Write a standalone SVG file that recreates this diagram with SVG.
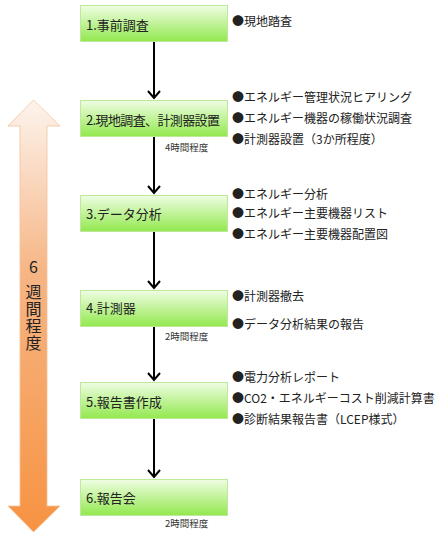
<svg xmlns="http://www.w3.org/2000/svg" width="444" height="537" viewBox="0 0 444 537">
<defs>
<linearGradient id="gBox" x1="0" y1="0" x2="0" y2="1">
<stop offset="0" stop-color="#effde3"/>
<stop offset="1" stop-color="#92e84e"/>
</linearGradient>
<linearGradient id="gArrow" x1="0" y1="100" x2="0" y2="532" gradientUnits="userSpaceOnUse">
<stop offset="0" stop-color="#fdf4ee"/>
<stop offset="0.4" stop-color="#f6b584"/>
<stop offset="1" stop-color="#f79342"/>
</linearGradient>
<style>
.box{fill:url(#gBox);stroke:#bfe89a;stroke-width:1}
.lbl{font-family:"Noto Sans CJK JP","Noto Sans",sans-serif;font-size:13px;fill:#222}
.note{font-family:"Noto Sans CJK JP","Noto Sans",sans-serif;font-size:12px;fill:#222}
.small{font-family:"Noto Sans CJK JP","Noto Sans",sans-serif;font-size:9.5px;fill:#333}
.vt{font-family:"Noto Sans CJK JP","Noto Sans",sans-serif;font-size:16px;fill:#222;text-anchor:middle}
.vv{font-family:"Noto Sans CJK JP","Noto Sans",sans-serif;font-size:16px;fill:#222;writing-mode:vertical-rl;letter-spacing:1px}
.ln{stroke:#000;stroke-width:2;fill:none}
.hd{stroke:#000;stroke-width:2;fill:none;stroke-linejoin:miter}
</style>
</defs>
<rect width="444" height="537" fill="#fff"/>

<g id="period">
<polygon points="33.5,100 60,126 47,126 47,506 60,506 33.5,532 8,506 20,506 20,126 8,126" fill="url(#gArrow)" stroke="#f2c39c" stroke-width="0.8"/>
<text class="vt" x="33.5" y="273">6</text>
<text class="vv" x="33.5" y="284">週間程度</text>
</g>

<g id="connectors">
<path class="ln" d="M154,42 V97"/>
<path class="hd" d="M148,91 L154,98 L160,91"/>
<path class="ln" d="M154,137 V192"/>
<path class="hd" d="M148,186 L154,193 L160,186"/>
<path class="ln" d="M154,231 V287"/>
<path class="hd" d="M148,281 L154,288 L160,281"/>
<path class="ln" d="M154,326 V379"/>
<path class="hd" d="M148,373 L154,380 L160,373"/>
<path class="ln" d="M154,418 V476"/>
<path class="hd" d="M148,470 L154,477 L160,470"/>
</g>

<g id="step1">
<rect class="box" x="80.5" y="5.5" width="147" height="36"/>
<text class="lbl" x="86" y="30">1.事前調査</text>
<text class="note" x="232" y="26">●現地踏査</text>
</g>

<g id="step2">
<rect class="box" x="80.5" y="100.5" width="147" height="36"/>
<text class="lbl" x="86" y="124.5" textLength="134">2.現地調査、計測器設置</text>
<text class="note" x="232" y="102">●エネルギー管理状況ヒアリング</text>
<text class="note" x="232" y="123">●エネルギー機器の稼働状況調査</text>
<text class="note" x="232" y="144">●計測器設置（3か所程度）</text>
<text class="small" x="165" y="150.5">4時間程度</text>
</g>

<g id="step3">
<rect class="box" x="80.5" y="195.5" width="147" height="36"/>
<text class="lbl" x="86" y="218.5">3.データ分析</text>
<text class="note" x="232" y="199">●エネルギー分析</text>
<text class="note" x="232" y="218">●エネルギー主要機器リスト</text>
<text class="note" x="232" y="238.5">●エネルギー主要機器配置図</text>
</g>

<g id="step4">
<rect class="box" x="80.5" y="290.5" width="147" height="36"/>
<text class="lbl" x="86" y="312.5">4.計測器</text>
<text class="note" x="232" y="301">●計測器撤去</text>
<text class="note" x="232" y="328.5">●データ分析結果の報告</text>
<text class="small" x="165" y="339.5">2時間程度</text>
</g>

<g id="step5">
<rect class="box" x="80.5" y="382.5" width="147" height="36"/>
<text class="lbl" x="86" y="406.5">5.報告書作成</text>
<text class="note" x="232" y="382">●電力分析レポート</text>
<text class="note" x="232" y="403">●CO2・エネルギーコスト削減計算書</text>
<text class="note" x="232" y="424">●診断結果報告書（LCEP様式）</text>
</g>

<g id="step6">
<rect class="box" x="80.5" y="479.5" width="147" height="36"/>
<text class="lbl" x="86" y="502.5">6.報告会</text>
<text class="small" x="165" y="527">2時間程度</text>
</g>
</svg>
